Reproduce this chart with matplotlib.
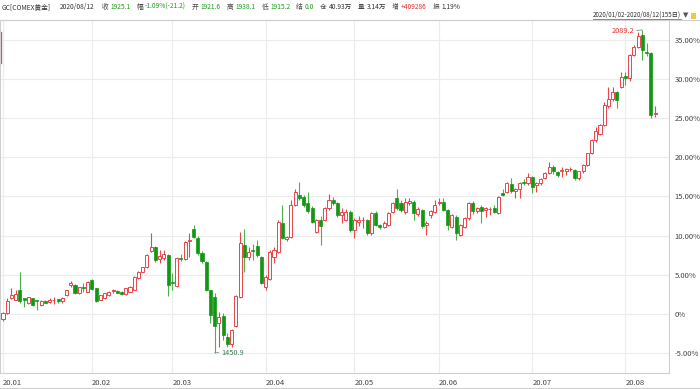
import numpy as np
import matplotlib
matplotlib.use('Agg')
import matplotlib.pyplot as plt
from matplotlib.lines import Line2D
from matplotlib.patches import Rectangle

plt.rcParams['font.family'] = ['Noto Sans CJK SC', 'DejaVu Sans']

# daily candles, % change vs. base, 2020/01/02 - 2020/08/12
opens = [-0.7, 0.06, 1.98, 1.76, 3.1, 1.98, 1.34, 1.98, 1.75, 1.13,
         1.68, 1.55, 1.7, 1.9, 1.68, 2.4, 3.68, 3.68, 2.62, 3.47,
         2.83, 4.32, 3.26, 1.76, 1.98, 2.4, 2.88, 2.92, 2.83, 2.52,
         2.83, 3.04, 4.53, 5.38, 6.02, 8.07, 8.58, 6.96, 7.17, 7.51,
         4.1, 3.55, 7.1, 6.96, 9.25, 10.8, 9.64, 7.73, 6.66, 3.04,
         2.19, -1.22, -0.28, -2.92, -3.86, -1.56, 2.19, 8.8, 7.3, 8.1,
         8.66, 7.3, 3.4, 4.5, 7.3, 7.94, 11.56, 9.52, 9.86, 13.9,
         15.2, 14.97, 14.12, 13.57, 10.5, 11.99, 11.99, 13.48, 14.55, 14.12,
         12.63, 11.99, 13.06, 10.71, 11.7, 11.95, 11.99, 10.29, 12.84, 11.35,
         11.14, 11.35, 13.06, 14.76, 14.2, 13.05, 14.2, 14.33, 12.75, 13.26,
         11.35, 12.63, 13.05, 14.2, 14.33, 13.26, 11.14, 12.41, 10.07, 11.14,
         12.2, 14.12, 13.18, 13.7, 13.3, 13.35, 13.48, 12.92, 15.4, 15.6,
         16.6, 15.7, 15.9, 16.9, 16.67, 17.53, 16.4, 16.68, 17.3, 18.0,
         18.8, 18.1, 18.2, 18.2, 18.45, 18.38, 17.3, 18.2, 19.0, 20.5,
         22.2, 23.0, 24.1, 26.5, 27.4, 28.3, 29.0, 30.4, 30.1, 33.1,
         34.1, 35.6, 33.5, 33.3, 25.5]
highs = [0.2, 2.0, 3.26, 3.04, 5.38, 2.0, 2.2, 2.05, 1.75, 1.8,
         1.75, 1.98, 2.19, 1.95, 2.19, 3.1, 4.25, 3.75, 3.47, 3.9,
         4.2, 4.4, 3.3, 2.45, 2.7, 2.95, 3.2, 2.98, 2.9, 3.35,
         3.6, 4.85, 5.5, 6.0, 7.6, 10.37, 8.6, 8.15, 8.15, 7.6,
         5.2, 7.2, 7.6, 9.3, 10.3, 11.35, 9.9, 8.0, 6.8, 3.1,
         2.6, 0.27, 0.1, -2.5, -2.0, 2.4, 10.5, 10.8, 8.5, 8.9,
         9.43, 7.4, 5.0, 8.1, 8.5, 12.0, 13.9, 10.0, 14.5, 16.0,
         16.89, 15.2, 15.6, 13.8, 12.1, 12.5, 13.6, 15.27, 14.9, 14.3,
         13.5, 13.4, 13.3, 12.2, 12.5, 12.4, 12.1, 13.0, 13.1, 11.5,
         11.8, 13.0, 14.3, 16.0, 14.5, 14.75, 14.75, 14.5, 13.6, 13.4,
         11.9, 13.3, 14.5, 14.75, 14.75, 13.4, 12.8, 12.6, 11.5, 12.4,
         14.3, 14.4, 13.6, 13.9, 13.7, 13.7, 13.9, 15.1, 16.0, 16.8,
         17.3, 16.1, 16.9, 17.2, 17.95, 17.6, 16.9, 17.4, 18.1, 19.45,
         19.0, 18.3, 18.8, 18.6, 18.8, 18.5, 18.3, 19.2, 20.6, 22.3,
         23.9, 24.3, 27.1, 29.0, 29.0, 28.5, 30.95, 30.95, 33.2, 34.3,
         36.05, 36.27, 34.6, 33.5, 26.5]
lows = [-0.9, 0.0, 1.9, 1.7, 1.42, 0.91, 1.2, 1.05, 0.49, 1.05,
        1.35, 1.34, 1.25, 1.34, 1.34, 2.3, 3.47, 2.55, 2.55, 2.83,
        2.75, 3.05, 1.55, 1.7, 1.9, 2.3, 2.7, 2.6, 2.45, 2.45,
        2.75, 3.0, 4.4, 5.3, 5.9, 7.9, 6.6, 6.45, 6.87, 2.27,
        3.0, 3.4, 6.7, 6.9, 7.3, 9.7, 7.5, 6.5, 2.9, -1.22,
        -4.97, -4.2, -3.4, -4.3, -4.3, -1.7, 2.0, 5.4, 6.9, 6.9,
        7.3, 3.8, 3.0, 4.3, 6.5, 7.8, 9.5, 9.3, 9.7, 13.8,
        14.5, 13.6, 12.9, 11.6, 10.3, 8.8, 11.8, 13.3, 13.9, 12.4,
        11.6, 11.8, 10.5, 9.65, 11.2, 10.9, 10.1, 10.1, 11.2, 10.8,
        10.9, 11.2, 12.9, 13.3, 13.0, 12.8, 13.9, 12.0, 12.5, 11.0,
        10.07, 12.3, 12.9, 13.9, 13.1, 10.7, 11.0, 9.43, 9.9, 10.9,
        12.0, 12.8, 12.9, 11.56, 12.4, 12.6, 12.9, 12.8, 15.0, 15.4,
        15.5, 14.75, 14.75, 16.5, 16.5, 15.4, 15.6, 16.5, 17.2, 17.9,
        17.9, 17.5, 17.5, 17.7, 18.2, 17.1, 17.1, 18.0, 18.9, 20.4,
        22.0, 22.9, 24.0, 26.3, 27.2, 26.3, 28.9, 29.25, 29.7, 32.9,
        34.0, 32.5, 33.0, 25.0, 25.2]
closes = [0.05, 1.68, 2.4, 2.5, 1.68, 1.76, 2.1, 1.13, 1.65, 1.68,
          1.42, 1.76, 1.8, 1.68, 1.98, 3.04, 3.9, 2.62, 3.39, 3.26,
          4.11, 3.13, 1.64, 2.4, 2.62, 2.83, 2.95, 2.7, 2.52, 3.26,
          3.47, 4.75, 5.38, 5.94, 7.51, 8.49, 6.87, 7.39, 7.6, 3.68,
          3.9, 7.09, 6.96, 9.22, 9.45, 9.77, 7.73, 6.75, 3.04, -0.16,
          -1.56, -0.37, -2.71, -3.86, -2.07, 2.27, 9.0, 7.3, 7.94, 8.0,
          7.51, 3.98, 4.75, 7.9, 8.15, 11.78, 9.65, 9.86, 13.9, 15.6,
          14.76, 13.9, 13.18, 11.78, 11.99, 11.22, 13.48, 14.55, 14.12, 12.63,
          13.06, 13.06, 10.71, 11.99, 11.99, 12.05, 10.29, 12.84, 11.35, 11.05,
          11.56, 12.84, 14.12, 13.48, 13.26, 14.33, 14.4, 12.84, 13.35, 11.22,
          11.65, 13.18, 13.9, 14.33, 13.26, 11.35, 12.63, 10.37, 11.35, 12.2,
          14.12, 13.18, 13.48, 13.18, 13.48, 13.45, 13.05, 14.97, 15.2, 16.67,
          15.7, 15.9, 16.67, 16.67, 17.52, 16.25, 16.7, 17.2, 18.0, 18.8,
          18.2, 17.75, 18.4, 18.45, 18.55, 17.3, 18.2, 19.0, 20.5, 22.2,
          23.3, 24.1, 26.7, 27.4, 28.3, 27.3, 30.3, 30.2, 33.1, 34.1,
          35.5, 33.7, 33.3, 25.4, 25.7]

month_pos = [0, 21, 40, 62, 83, 103, 125, 147]
month_labels = ['20.01', '20.02', '20.03', '20.04', '20.05', '20.06', '20.07', '20.08']
pct_ticks = [-5, 0, 5, 10, 15, 20, 25, 30, 35]
high_label = '2089.2'
low_label = '1450.9'

up_color = '#e8454a'
down_color = '#139613'
wick_down = '#4cb04c'
gray_txt = '#444444'

W, H = 700, 389
fig = plt.figure(figsize=(7, 3.89), dpi=100)
ax = fig.add_axes([0 / W, (H - 373) / H, 669 / W, (373 - 20) / H])

o = np.array(opens)
h = np.array(highs)
l = np.array(lows)
c = np.array(closes)
x = np.arange(len(o))
up = c >= o

# wicks, then bodies on top
ax.vlines(x[up], l[up], h[up], colors=up_color, linewidth=0.8, zorder=2)
ax.vlines(x[~up], l[~up], h[~up], colors=wick_down, linewidth=0.8, zorder=2)
bottom = np.minimum(o, c)
height = np.maximum(np.abs(c - o), 0.1)
ax.bar(x[up], height[up], bottom=bottom[up], width=0.72, facecolor='white',
       edgecolor=up_color, linewidth=0.7, zorder=3)
ax.bar(x[~up], height[~up], bottom=bottom[~up], width=0.72, facecolor=down_color,
       edgecolor=down_color, linewidth=0.5, zorder=3)

ax.set_xlim(-0.71, 157.3)
ax.set_ylim(-7.57, 37.55)

ax.yaxis.tick_right()
ax.set_yticks(pct_ticks)
ax.set_yticklabels(['0%' if v == 0 else '%.2f%%' % v for v in pct_ticks])
ax.set_xticks(month_pos)
ax.set_xticklabels(month_labels)
for lbl in ax.get_xticklabels():
    lbl.set_ha('left')
ax.tick_params(axis='y', length=0, pad=4, labelsize=5.5, labelcolor=gray_txt)
ax.tick_params(axis='x', length=0, pad=4, labelsize=5.5, labelcolor=gray_txt)
ax.grid(True, color='#ececec', linewidth=0.8)
ax.set_axisbelow(True)
for s in ax.spines.values():
    s.set_color('#cfcfcf')
    s.set_linewidth(0.8)

# max / min labels
imax = int(np.argmax(h))
imin = int(np.argmin(l))
ax.annotate(high_label, xy=(imax, h[imax]), xytext=(-6, -1), textcoords='offset points',
            ha='right', va='center', fontsize=5.3, color='#e03030',
            arrowprops=dict(arrowstyle='-', color='#7a9a7a', lw=0.6, shrinkA=0, shrinkB=0))
ax.annotate(low_label, xy=(imin, l[imin]), xytext=(5, 0), textcoords='offset points',
            ha='left', va='center', fontsize=5.3, color='#3d7a55',
            arrowprops=dict(arrowstyle='-', color='#7a9a7a', lw=0.6, shrinkA=0, shrinkB=0))

# stray red tick at the left edge
ax.plot([0.0015, 0.0015], [0.878, 0.966], transform=ax.transAxes, color=up_color,
        lw=0.9, clip_on=False)

# header line
green_txt = '#1e9a1e'
red_txt = '#e03030'
header = [('GC[COMEX黄金]', '#333333', 9), ('2020/08/12', '#333333', 7),
          ('收', gray_txt, 2), ('1925.1', green_txt, 6),
          ('幅', gray_txt, 2), ('-1.09%(-21.2)', green_txt, 6),
          ('开', gray_txt, 2), ('1921.6', green_txt, 6),
          ('高', gray_txt, 2), ('1938.1', green_txt, 6),
          ('低', gray_txt, 2), ('1915.2', green_txt, 6),
          ('结', gray_txt, 2), ('0.0', green_txt, 6),
          ('仓', gray_txt, 2), ('40.93万', '#333333', 6),
          ('量', gray_txt, 2), ('3.14万', '#333333', 6),
          ('增', gray_txt, 2), ('+409286', red_txt, 6),
          ('振', gray_txt, 2), ('1.19%', '#333333', 6)]
renderer = fig.canvas.get_renderer()
px = 2
for txt, col, gap in header:
    t = fig.text(px / W, 1 - 7 / H, txt, fontsize=4.8, color=col, va='center', ha='left')
    px += t.get_window_extent(renderer).width + gap

rng = fig.text(681 / W, 1 - 15 / H, '2020/01/02-2020/08/12(155日)', fontsize=4.5,
               color='#333333', va='center', ha='right')
bb = rng.get_window_extent(renderer)
fig.add_artist(Line2D([bb.x0 / W, bb.x1 / W], [(H - 19) / H, (H - 19) / H], color='#555555', lw=0.5))
fig.text(686 / W, 1 - 15 / H, '▼', fontsize=5, color='#555555', va='center', ha='center',
         family='DejaVu Sans')
fig.add_artist(Rectangle((691 / W, (H - 19) / H), 5 / W, 6 / H, transform=fig.transFigure,
                         facecolor='#f2c744', edgecolor='none'))
fig.add_artist(Line2D([0, 1], [(H - 20) / H, (H - 20) / H], color='#cfcfcf', lw=0.8))
fig.add_artist(Line2D([0, 1], [(H - 388) / H, (H - 388) / H], color='#cfcfcf', lw=0.8))

fig.savefig('out.png', dpi=100)
